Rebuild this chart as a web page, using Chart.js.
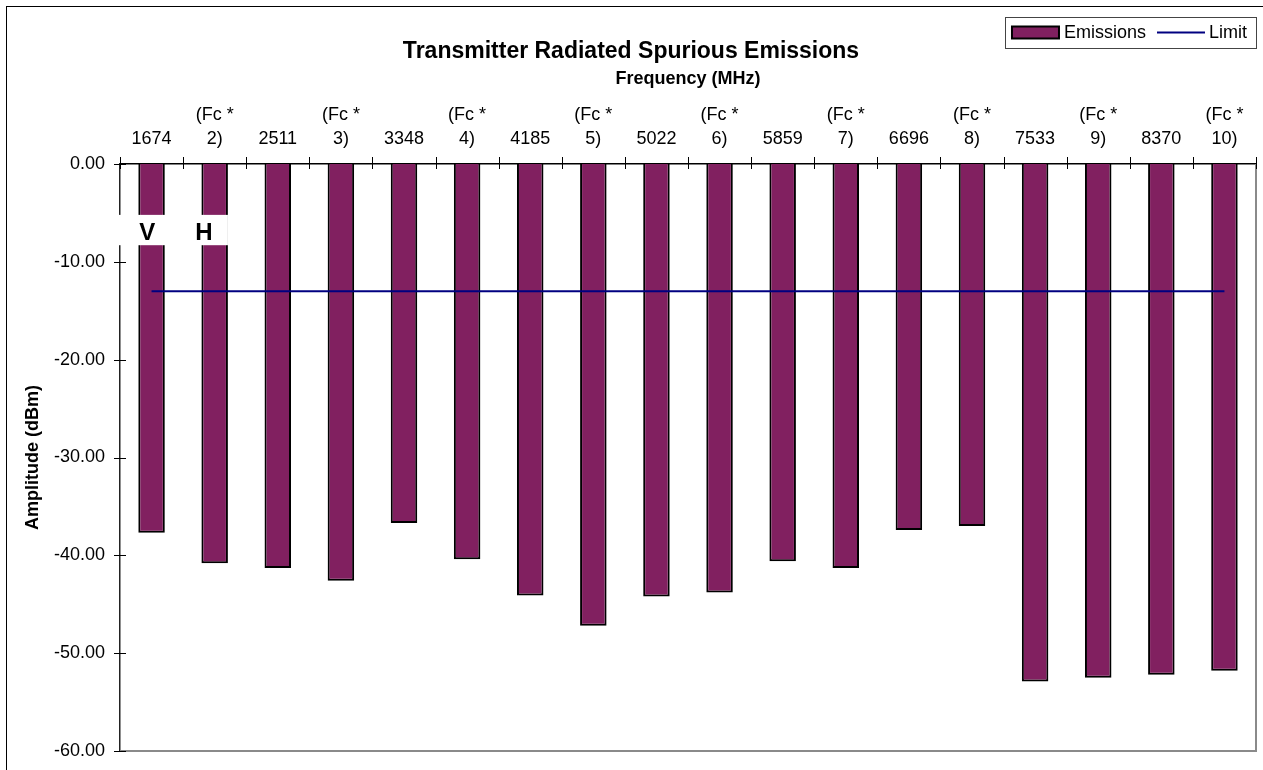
<!DOCTYPE html>
<html>
<head>
<meta charset="utf-8">
<script src="https://cdn.jsdelivr.net/npm/chart.js@4.4.1/dist/chart.umd.min.js"></script>
<style>
  html, body { margin: 0; padding: 0; background: #fff; overflow: hidden; }
  #wrap { position: relative; width: 1263px; height: 770px; }
  #frame { position: absolute; left: 6px; top: 6px; width: 1300px; height: 800px; border: 1px solid #000; pointer-events: none; }
</style>
</head>
<body>
<div id="wrap">
  <canvas id="chart" width="1263" height="770"></canvas>
  <div id="frame"></div>
</div>
<script>
// x categories, two lines each (top line blank for the plain frequencies)
const categories = [
  ['', '1674'], ['(Fc *', '2)'],
  ['', '2511'], ['(Fc *', '3)'],
  ['', '3348'], ['(Fc *', '4)'],
  ['', '4185'], ['(Fc *', '5)'],
  ['', '5022'], ['(Fc *', '6)'],
  ['', '5859'], ['(Fc *', '7)'],
  ['', '6696'], ['(Fc *', '8)'],
  ['', '7533'], ['(Fc *', '9)'],
  ['', '8370'], ['(Fc *', '10)'],
];

const emissions = [
  -37.7, -40.8, -41.3, -42.6, -36.7, -40.4, -44.1, -47.2, -44.2,
  -43.8, -40.6, -41.3, -37.4, -37.0, -52.9, -52.5, -52.2, -51.8,
];

const limitValues = [
  -13, -13, -13, -13, -13, -13, -13, -13, -13,
  -13, -13, -13, -13, -13, -13, -13, -13, -13,
];

const yMin = -60;
const yMax = 0;
const yStep = 10;

// polarisation markers over the first two bars: [text, category position]
const polarMarks = [['V', -0.07], ['H', 0.83]];

const FONT = '"Liberation Sans", Arial, sans-serif';
const BAR_COLOR = '#812060';
const LIMIT_COLOR = '#000080';

// tick marks crossing the axes + grey right/bottom frame
const framePlugin = {
  id: 'frame',
  afterDraw(chart) {
    const { ctx, chartArea: a, scales: { x, y } } = chart;
    ctx.save();
    ctx.strokeStyle = '#8a8a8a';
    ctx.lineWidth = 2;
    ctx.beginPath();
    ctx.moveTo(a.left, a.bottom);
    ctx.lineTo(a.right, a.bottom);
    ctx.lineTo(a.right, a.top);
    ctx.stroke();

    ctx.strokeStyle = '#000';
    ctx.lineWidth = 1;
    ctx.beginPath();
    y.ticks.forEach((t, i) => {
      const py = Math.round(y.getPixelForTick(i)) + 0.5;
      ctx.moveTo(a.left - 6, py);
      ctx.lineTo(a.left + 6, py);
    });
    for (let i = 0; i <= categories.length; i++) {
      const px = Math.round(x.getPixelForValue(i - 0.5)) + 0.5;
      ctx.moveTo(px, a.top - 7);
      ctx.lineTo(px, a.top + 5);
    }
    ctx.stroke();
    ctx.restore();
  }
};

// white label box with V / H
const polarPlugin = {
  id: 'polar',
  afterDraw(chart) {
    const { ctx, scales: { x, y } } = chart;
    const top = y.getPixelForValue(-5.2);
    const bottom = y.getPixelForValue(-8.3);
    const left = x.getPixelForValue(-0.53);
    const right = x.getPixelForValue(1.21);
    ctx.save();
    ctx.fillStyle = '#fff';
    ctx.fillRect(left, top, right - left, bottom - top);
    ctx.fillStyle = '#000';
    ctx.font = 'bold 24px ' + FONT;
    ctx.textAlign = 'center';
    ctx.textBaseline = 'middle';
    polarMarks.forEach(([txt, pos]) => {
      ctx.fillText(txt, x.getPixelForValue(pos), y.getPixelForValue(-7.0) + 1);
    });
    ctx.restore();
  }
};

// boxed legend in the top-right corner
const legendPlugin = {
  id: 'boxLegend',
  afterDraw(chart) {
    const { ctx, chartArea: a } = chart;
    const [limitDs, barDs] = chart.data.datasets;
    ctx.save();
    ctx.font = '18px ' + FONT;
    const w1 = ctx.measureText(barDs.label).width;
    const w2 = ctx.measureText(limitDs.label).width;
    const boxW = 7 + 47 + 5 + w1 + 11 + 48 + 4 + w2 + 9;
    const boxL = a.right - boxW, boxT = 17, boxH = 31;
    const cy = boxT + boxH / 2;
    ctx.strokeStyle = '#444';
    ctx.lineWidth = 1;
    ctx.strokeRect(Math.round(boxL) + 0.5, boxT + 0.5, Math.round(boxW), boxH);

    let cx = boxL + 7;
    ctx.fillStyle = barDs.backgroundColor;
    ctx.fillRect(cx, cy - 6, 47, 12);
    ctx.strokeStyle = '#000';
    ctx.lineWidth = 2;
    ctx.strokeRect(cx, cy - 6, 47, 12);
    cx += 47 + 5;
    ctx.fillStyle = '#000';
    ctx.textBaseline = 'middle';
    ctx.fillText(barDs.label, cx, cy + 1);
    cx += w1 + 11;
    ctx.strokeStyle = limitDs.borderColor;
    ctx.lineWidth = 2;
    ctx.beginPath();
    ctx.moveTo(cx, cy);
    ctx.lineTo(cx + 48, cy);
    ctx.stroke();
    cx += 48 + 4;
    ctx.fillText(limitDs.label, cx, cy + 1);
    ctx.restore();
  }
};

new Chart(document.getElementById('chart'), {
  data: {
    labels: categories,
    datasets: [
      {
        type: 'line',
        label: 'Limit',
        data: limitValues,
        borderColor: LIMIT_COLOR,
        borderWidth: 2,
        pointRadius: 0,
        fill: false,
        order: 0,
      },
      {
        type: 'bar',
        label: 'Emissions',
        data: emissions,
        backgroundColor: BAR_COLOR,
        borderColor: '#000',
        borderWidth: 2,
        barPercentage: 0.42,
        categoryPercentage: 1,
        order: 1,
      },
    ],
  },
  options: {
    responsive: false,
    animation: false,
    devicePixelRatio: 1,
    layout: { padding: { left: 6, right: 7, top: 6, bottom: 19 } },
    plugins: {
      legend: { display: false },
      tooltip: { enabled: false },
      title: {
        display: true,
        text: 'Transmitter Radiated Spurious Emissions',
        color: '#000',
        font: { family: FONT, size: 23, weight: 'bold' },
        padding: { top: 32, bottom: 0 },
      },
    },
    scales: {
      x: {
        type: 'category',
        position: 'top',
        offset: true,
        grid: { display: false },
        border: { display: true, color: '#000', width: 1.5 },
        ticks: {
          color: '#000',
          font: { family: FONT, size: 18, lineHeight: 1.35 },
          padding: 5,
          maxRotation: 0,
          autoSkip: false,
        },
        title: {
          display: true,
          text: 'Frequency (MHz)',
          color: '#000',
          font: { family: FONT, size: 18, weight: 'bold' },
          padding: { top: 3, bottom: 0 },
        },
        afterFit(s) { s.height = 98.4; },
      },
      y: {
        min: yMin,
        max: yMax,
        grid: { display: false },
        border: { display: true, color: '#222', width: 1.5 },
        ticks: {
          stepSize: yStep,
          color: '#000',
          font: { family: FONT, size: 18 },
          padding: 7,
          callback: v => v.toFixed(2),
        },
        title: {
          display: true,
          text: 'Amplitude (dBm)',
          color: '#000',
          font: { family: FONT, size: 18, weight: 'bold' },
          padding: { top: 16, bottom: 0 },
        },
        afterFit(s) { s.width = 114; },
      },
    },
  },
  plugins: [framePlugin, polarPlugin, legendPlugin],
});
</script>
</body>
</html>
